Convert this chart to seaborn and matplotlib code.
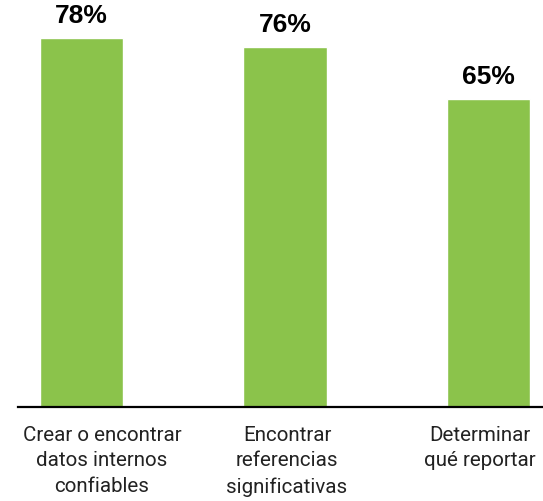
import matplotlib
matplotlib.use("Agg")
import matplotlib.pyplot as plt
import matplotlib.transforms as mtransforms
import seaborn as sns

# Datos
categorias = ["Crear o encontrar\ndatos internos\nconfiables",
              "Encontrar\nreferencias\nsignificativas",
              "Determinar\nqué reportar"]
valores = [78, 76, 65]
etiquetas = ["78%", "76%", "65%"]

sns.set_style("white")
plt.rcParams['font.family'] = ['Roboto', 'DejaVu Sans']

fig = plt.figure(figsize=(5.43, 5.02), dpi=100)
ax = fig.add_axes([18 / 543, 94.5 / 502, 1 - 18 / 543, 407.5 / 502])

sns.barplot(x=categorias, y=valores, color="#8BC34B", saturation=1, width=0.41, ax=ax)

ax.bar_label(ax.containers[0], labels=etiquetas, padding=8, fontsize=19,
             fontweight="bold", color="black", family=['Liberation Sans', 'DejaVu Sans'])

ax.set_xlim(-0.312, 2.268)
ax.set_ylim(0, 86.2)
ax.set_yticks([])
ax.set_ylabel("")
for lado in ["top", "right", "left"]:
    ax.spines[lado].set_visible(False)
ax.spines["bottom"].set_color("black")
ax.spines["bottom"].set_linewidth(1.6)
ax.tick_params(axis="x", length=0, pad=13, labelsize=14.8, colors="#222222")

# las etiquetas no quedan centradas bajo las barras en el original
desplaz = [20.5, 2, -9]
for t, dx in zip(ax.get_xticklabels(), desplaz):
    t.set_linespacing(1.45)
    t.set_transform(t.get_transform() + mtransforms.ScaledTranslation(dx / 100, 0, fig.dpi_scale_trans))

fig.savefig("out.png", dpi=100)
